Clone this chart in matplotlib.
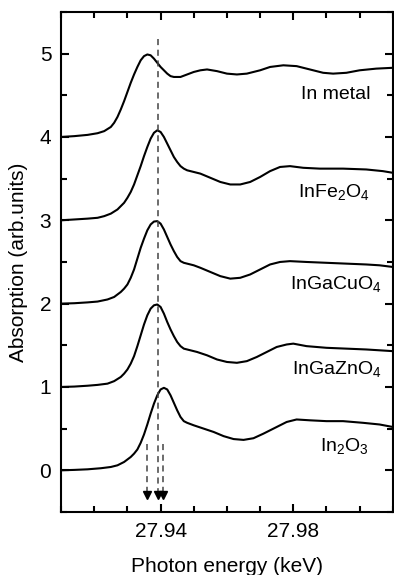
import numpy as np
import matplotlib
matplotlib.use('Agg')
import matplotlib.pyplot as plt
from matplotlib.ticker import MultipleLocator

plt.rcParams['font.family'] = ['Liberation Sans', 'DejaVu Sans']
plt.rcParams['mathtext.fontset'] = 'custom'
plt.rcParams['mathtext.rm'] = 'Liberation Sans'
plt.rcParams['mathtext.it'] = 'Liberation Sans'

x_metal = [27.910, 27.914, 27.918, 27.921, 27.923, 27.925, 27.926, 27.927, 27.928, 27.929,
           27.930, 27.931, 27.932, 27.933, 27.934, 27.935, 27.936, 27.937, 27.938, 27.939,
           27.940, 27.941, 27.942, 27.943, 27.944, 27.946, 27.948, 27.950, 27.952, 27.954,
           27.957, 27.960, 27.963, 27.966, 27.970, 27.973, 27.977, 27.981, 27.985, 27.989,
           27.992, 27.996, 28.000, 28.005, 28.010]
y_metal = [4.00, 4.01, 4.025, 4.045, 4.07, 4.12, 4.17, 4.24, 4.33, 4.43,
           4.54, 4.65, 4.75, 4.84, 4.92, 4.97, 4.99, 4.98, 4.94, 4.89,
           4.84, 4.80, 4.76, 4.73, 4.72, 4.72, 4.75, 4.78, 4.80, 4.81,
           4.79, 4.76, 4.75, 4.76, 4.80, 4.84, 4.86, 4.85, 4.81, 4.77,
           4.76, 4.77, 4.80, 4.82, 4.83]

x_fe = [27.910, 27.914, 27.918, 27.921, 27.923, 27.925, 27.927, 27.928, 27.929, 27.930,
        27.931, 27.932, 27.933, 27.934, 27.935, 27.936, 27.937, 27.938, 27.939, 27.940,
        27.941, 27.942, 27.943, 27.944, 27.945, 27.946, 27.947, 27.948, 27.950, 27.952,
        27.955, 27.958, 27.961, 27.964, 27.967, 27.970, 27.973, 27.976, 27.979, 27.983,
        27.988, 27.995, 28.002, 28.007, 28.010]
y_fe = [3.00, 3.01, 3.02, 3.03, 3.05, 3.08, 3.13, 3.17, 3.21, 3.27,
        3.34, 3.43, 3.54, 3.65, 3.77, 3.88, 3.98, 4.05, 4.08, 4.06,
        4.00, 3.92, 3.84, 3.76, 3.70, 3.65, 3.62, 3.60, 3.58, 3.56,
        3.51, 3.46, 3.43, 3.43, 3.46, 3.52, 3.59, 3.64, 3.65, 3.63,
        3.62, 3.62, 3.61, 3.59, 3.57]

x_cu = [27.910, 27.914, 27.918, 27.921, 27.924, 27.926, 27.928, 27.929, 27.930, 27.931,
        27.932, 27.933, 27.934, 27.935, 27.936, 27.937, 27.938, 27.939, 27.940, 27.941,
        27.942, 27.943, 27.944, 27.945, 27.946, 27.947, 27.948, 27.950, 27.952, 27.955,
        27.958, 27.961, 27.964, 27.967, 27.970, 27.973, 27.976, 27.979, 27.984, 27.990,
        27.996, 28.002, 28.006, 28.010]
y_cu = [2.00, 2.005, 2.015, 2.025, 2.05, 2.08, 2.14, 2.18, 2.23, 2.31,
        2.41, 2.54, 2.67, 2.78, 2.88, 2.95, 2.985, 2.99, 2.96, 2.89,
        2.80, 2.71, 2.63, 2.56, 2.51, 2.49, 2.48, 2.46, 2.43, 2.38,
        2.33, 2.30, 2.31, 2.35, 2.41, 2.47, 2.50, 2.51, 2.50, 2.49,
        2.48, 2.47, 2.46, 2.44]

x_zn = [27.910, 27.914, 27.918, 27.921, 27.924, 27.926, 27.928, 27.929, 27.930, 27.931,
        27.932, 27.933, 27.934, 27.935, 27.936, 27.937, 27.938, 27.939, 27.940, 27.941,
        27.942, 27.943, 27.944, 27.945, 27.946, 27.947, 27.949, 27.951, 27.954, 27.957,
        27.960, 27.963, 27.966, 27.969, 27.972, 27.975, 27.978, 27.980, 27.984, 27.990,
        27.996, 28.002, 28.006, 28.010]
y_zn = [1.00, 1.005, 1.015, 1.025, 1.04, 1.07, 1.12, 1.16, 1.21, 1.28,
        1.37, 1.49, 1.62, 1.75, 1.86, 1.94, 1.98, 1.99, 1.96, 1.88,
        1.78, 1.69, 1.61, 1.54, 1.49, 1.46, 1.44, 1.42, 1.38, 1.33,
        1.30, 1.29, 1.31, 1.36, 1.42, 1.48, 1.51, 1.52, 1.49, 1.47,
        1.46, 1.45, 1.44, 1.43]

x_o3 = [27.910, 27.914, 27.918, 27.922, 27.925, 27.927, 27.929, 27.931, 27.932, 27.933,
        27.934, 27.935, 27.936, 27.937, 27.938, 27.939, 27.940, 27.941, 27.942, 27.943,
        27.944, 27.945, 27.946, 27.947, 27.948, 27.950, 27.953, 27.956, 27.959, 27.962,
        27.965, 27.968, 27.971, 27.975, 27.978, 27.981, 27.985, 27.990, 27.995, 28.001,
        28.006, 28.010]
y_o3 = [0.00, 0.005, 0.012, 0.025, 0.04, 0.06, 0.10, 0.16, 0.20, 0.25,
        0.33, 0.43, 0.55, 0.68, 0.80, 0.90, 0.97, 0.99, 0.97, 0.90,
        0.81, 0.72, 0.64, 0.59, 0.57, 0.54, 0.50, 0.46, 0.41, 0.375,
        0.365, 0.385, 0.44, 0.52, 0.58, 0.61, 0.60, 0.59, 0.59, 0.57,
        0.55, 0.52]

labels = ['In metal', r'InFe$_2$O$_4$', r'InGaCuO$_4$', r'InGaZnO$_4$', r'In$_2$O$_3$']
label_x = [27.9822, 27.9815, 27.9790, 27.9795, 27.9882]
label_y = [4.51, 3.34, 2.23, 1.21, 0.29]

# edge positions marked by arrows
edge_x = [27.9358, 27.9391, 27.9406]

fig = plt.figure(figsize=(3.94, 5.75), dpi=100)
ax = fig.add_axes([0.155, 0.1096, 0.842, 0.8696])

for xs, ys in [(x_metal, y_metal), (x_fe, y_fe), (x_cu, y_cu), (x_zn, y_zn), (x_o3, y_o3)]:
    ax.plot(xs, ys, color='black', lw=1.5, solid_joinstyle='round')

for lx, ly, t in zip(label_x, label_y, labels):
    ax.text(lx, ly, t, fontsize=14, va='center', ha='left')

dash = dict(color='#444444', lw=1.1, linestyle=(0, (4, 3)))
ax.plot([edge_x[1], edge_x[1]], [5.17, -0.27], **dash)
for ex in (edge_x[0], edge_x[2]):
    ax.plot([ex, ex], [0.31, -0.27], **dash)
for ex in edge_x:
    ax.plot(ex, -0.30, marker='v', ms=6, color='black', mec='black')

ax.set_xlim(27.91, 28.01)
ax.set_ylim(-0.5, 5.5)
ax.xaxis.set_major_locator(MultipleLocator(0.04))
ax.xaxis.set_minor_locator(MultipleLocator(0.01))
ax.yaxis.set_major_locator(MultipleLocator(1))
ax.yaxis.set_minor_locator(MultipleLocator(0.5))
ax.set_xticks([27.94, 27.98])
ax.set_xticklabels(['27.94', '27.98'])
ax.tick_params(which='both', direction='in', top=True, right=True, labelsize=15, width=1.5)
ax.tick_params(which='major', length=6, pad=7)
ax.tick_params(which='minor', length=4)
for s in ax.spines.values():
    s.set_linewidth(1.5)

ax.set_xlabel('Photon energy (keV)', fontsize=15, labelpad=12)
ax.set_ylabel('Absorption (arb.units)', fontsize=15, labelpad=8)

fig.savefig('out.png', dpi=100)
